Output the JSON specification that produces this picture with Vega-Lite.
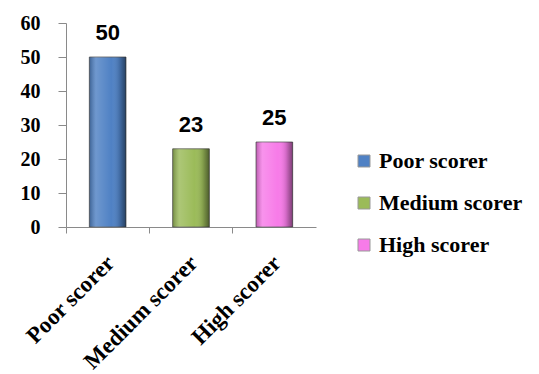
{
  "$schema": "https://vega.github.io/schema/vega-lite/v6.json",
  "autosize": "none",
  "width": 250,
  "height": 204,
  "padding": {"left": 66, "top": 23, "right": 223, "bottom": 147},
  "background": "white",
  "config": {"view": {"stroke": null}},
  "data": {"values": [
    {"group": "Poor scorer", "value": 50},
    {"group": "Medium scorer", "value": 23},
    {"group": "High scorer", "value": 25}
  ]},
  "encoding": {
    "x": {"field": "group", "type": "nominal", "sort": null,
      "scale": {"paddingInner": 0, "paddingOuter": 0},
      "axis": {"title": null, "bandPosition": 0, "labelOffset": 3, "labelAngle": -45, "labelAlign": "right", "labelBaseline": "middle",
        "labelFont": "Liberation Serif", "labelFontWeight": "bold", "labelFontSize": 23, "labelColor": "black",
        "labelPadding": 26, "tickSize": 6, "tickColor": "#8a8a8a", "domainColor": "#8a8a8a"}},
    "y": {"field": "value", "type": "quantitative",
      "scale": {"domain": [0, 60]},
      "axis": {"title": null, "values": [0, 10, 20, 30, 40, 50, 60], "grid": false,
        "labelFont": "Liberation Serif", "labelFontWeight": "bold", "labelFontSize": 20, "labelColor": "black",
        "labelPadding": 18, "tickSize": 8, "tickColor": "#8a8a8a", "domainColor": "#8a8a8a"}}
  },
  "layer": [
    {
      "mark": {"type": "bar", "width": {"band": 0.44}, "stroke": "#5a5a5a", "strokeWidth": 0.8},
      "encoding": {
        "color": {"field": "group", "type": "nominal", "sort": null,
          "scale": {"domain": ["Poor scorer", "Medium scorer", "High scorer"], "range": ["#4f81c4", "#9bbb59", "#f77be8"]},
          "legend": {"title": null, "orient": "none", "legendX": 287, "legendY": 127,
            "symbolType": "square", "symbolSize": 144, "symbolStrokeColor": "#999", "symbolStrokeWidth": 1,
            "labelFont": "Liberation Serif", "labelFontWeight": "bold", "labelFontSize": 22, "labelColor": "black",
            "rowPadding": 20, "labelOffset": 4}}
      }
    },
    {
      "mark": {"type": "bar", "width": {"band": 0.44},
        "color": {"gradient": "linear", "x1": 0, "x2": 1, "y1": 0, "y2": 0,
          "stops": [
            {"offset": 0, "color": "rgba(0,0,0,0.25)"},
            {"offset": 0.18, "color": "rgba(255,255,255,0.18)"},
            {"offset": 0.6, "color": "rgba(255,255,255,0)"},
            {"offset": 0.82, "color": "rgba(0,0,0,0.15)"},
            {"offset": 1, "color": "rgba(0,0,0,0.5)"}
          ]}},
      "encoding": {}
    },
    {
      "mark": {"type": "text", "font": "Liberation Sans", "fontWeight": "bold", "fontSize": 22, "baseline": "alphabetic", "dy": -17, "color": "black"},
      "encoding": {"text": {"field": "value", "type": "quantitative"}}
    }
  ]
}
